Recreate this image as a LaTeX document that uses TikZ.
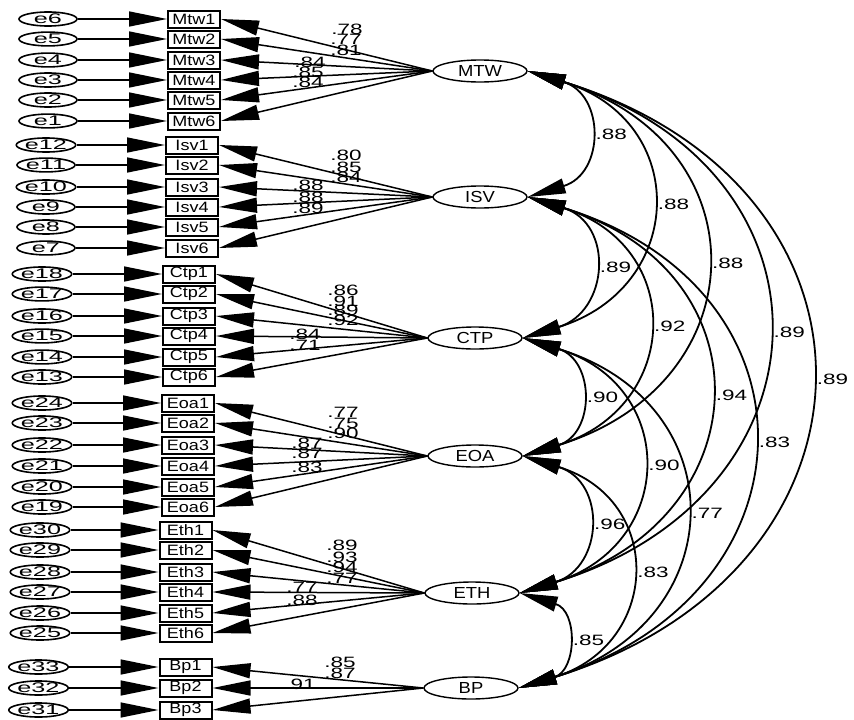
\documentclass[tikz,border=0pt]{standalone}
\usepackage{fontspec}
\setmainfont{Liberation Sans}
\newfontfamily\numfnt[FakeStretch=1.5]{Liberation Sans}
\newfontfamily\errfnt[FakeStretch=1.8]{Liberation Sans}
\newfontfamily\boxfnt[FakeStretch=1.2]{Liberation Sans}
\newfontfamily\latfnt[FakeStretch=1.15]{Liberation Sans}
\usetikzlibrary{arrows.meta,shapes.geometric}
\tikzset{
  errnode/.style={ellipse, draw, line width=1.6pt, minimum width=58pt, minimum height=13pt, inner sep=0pt, font=\errfnt\fontsize{14}{14}\selectfont},
  obsnode/.style={rectangle, draw, line width=2pt, minimum width=52pt, minimum height=17pt, inner sep=0pt, font=\boxfnt\fontsize{15}{15}\selectfont},
  latnode/.style={ellipse, draw, line width=1.4pt, minimum width=94pt, minimum height=22pt, inner sep=0pt, font=\latfnt\fontsize{16}{16}\selectfont},
  numlab/.style={inner sep=0pt, font=\numfnt\fontsize{15}{15}\selectfont},
  bighead/.tip={Triangle[length=38pt,width=15pt]},
  loadarrow/.style={line width=1.5pt, -bighead},
  corrarrow/.style={line width=1.8pt, bighead-bighead},
  corrlab/.style={numlab, anchor=west, xshift=9pt}
}
\begin{document}
\begin{tikzpicture}[x=1pt,y=-1pt]
\useasboundingbox (0,0) rectangle (854,720);
% latent variables
\node[latnode] (MTW) at (480,71) {MTW};
\node[latnode] (ISV) at (480,197) {ISV};
\node[latnode] (CTP) at (475,338) {CTP};
\node[latnode] (EOA) at (475,456) {EOA};
\node[latnode] (ETH) at (472,593) {ETH};
\node[latnode] (BP) at (471,688) {BP};
% indicators
\foreach \i/\y/\e in {1/19/6,2/39/5,3/60/4,4/80/3,5/100/2,6/121/1}{
  \node[obsnode] (Mtw\i) at (194,\y) {Mtw\i};
  \node[errnode] (e\e) at (48,\y) {e\e};
  \draw[loadarrow] (e\e) -- (Mtw\i);
  \draw[loadarrow] (MTW.west) -- (Mtw\i.east);
}
\foreach \i/\y/\e in {1/145/12,2/165/11,3/187/10,4/207/9,5/227/8,6/248/7}{
  \node[obsnode] (Isv\i) at (192,\y) {Isv\i};
  \node[errnode] (e\e) at (46,\y) {e\e};
  \draw[loadarrow] (e\e) -- (Isv\i);
  \draw[loadarrow] (ISV.west) -- (Isv\i.east);
}
\foreach \i/\y/\e in {1/274/18,2/294/17,3/316/16,4/336/15,5/357/14,6/377/13}{
  \node[obsnode] (Ctp\i) at (189,\y) {Ctp\i};
  \node[errnode] (e\e) at (42,\y) {e\e};
  \draw[loadarrow] (e\e) -- (Ctp\i);
  \draw[loadarrow] (CTP.west) -- (Ctp\i.east);
}
\foreach \i/\y/\e in {1/403/24,2/423/23,3/445/22,4/466/21,5/487/20,6/507/19}{
  \node[obsnode] (Eoa\i) at (188,\y) {Eoa\i};
  \node[errnode] (e\e) at (42,\y) {e\e};
  \draw[loadarrow] (e\e) -- (Eoa\i);
  \draw[loadarrow] (EOA.west) -- (Eoa\i.east);
}
\foreach \i/\y/\e in {1/530/30,2/550/29,3/572/28,4/592/27,5/613/26,6/633/25}{
  \node[obsnode] (Eth\i) at (185.5,\y) {Eth\i};
  \node[errnode] (e\e) at (40,\y) {e\e};
  \draw[loadarrow] (e\e) -- (Eth\i);
  \draw[loadarrow] (ETH.west) -- (Eth\i.east);
}
\foreach \i/\y/\e in {1/667/33,2/688/32,3/710/31}{
  \node[obsnode] (Bp\i) at (185.5,\y) {Bp\i};
  \node[errnode] (e\e) at (38.5,\y) {e\e};
  \draw[loadarrow] (e\e) -- (Bp\i);
  \draw[loadarrow] (BP.west) -- (Bp\i.east);
}
% loading labels
\foreach \n/\x/\y/\t in {m1/347/29/.78,m2/346/39/.77,m3/346/50/.81,m4/310/62/.84,m5/308/72/.85,m6/308/82/.84,
  i1/346/155/.80,i2/346/167/.85,i3/346/177/.84,i4/308/185/.88,i5/308/197/.88,i6/308/208/.89,
  c1/343/290/.86,c2/343/301/.91,c3/343/310/.89,c4/343/320/.92,c5/305/334/.84,c6/305/345/.71,
  o1/343/412/.77,o2/343/423/.75,o3/343/433/.90,o4/307/443/.87,o5/307/453/.87,o6/307/467/.83,
  t1/342/545/.89,t2/342/557/.93,t3/342/567/.94,t4/342/578/.77,t5/302/587/.77,t6/302/600/.88,
  b1/340/662/.85,b2/340/673/.87,b3/300/684/.91}{
  \node[numlab] (lab\n) at (\x,\y) {\t};
}
% correlations
\draw[corrarrow] (MTW.east) .. controls +(77.3,23.6) and +(77.3,-23.6) .. (ISV.east) node[pos=0.5,corrlab] (r1) {.88};
\draw[corrarrow] (MTW.east) .. controls +(163.7,50.1) and +(163.7,-50.1) .. (CTP.east) node[pos=0.5,corrlab] (r2) {.88};
\draw[corrarrow] (MTW.east) .. controls +(236.1,72.2) and +(236.1,-72.2) .. (EOA.east) node[pos=0.5,corrlab] (r3) {.88};
\draw[corrarrow] (MTW.east) .. controls +(320.1,97.9) and +(320.1,-97.9) .. (ETH.east) node[pos=0.5,corrlab] (r4) {.89};
\draw[corrarrow] (MTW.east) .. controls +(378.4,115.7) and +(378.4,-115.7) .. (BP.east) node[pos=0.5,corrlab] (r5) {.89};
\draw[corrarrow] (ISV.east) .. controls +(86.5,26.5) and +(86.5,-26.5) .. (CTP.east) node[pos=0.5,corrlab] (r6) {.89};
\draw[corrarrow] (ISV.east) .. controls +(158.8,48.6) and +(158.8,-48.6) .. (EOA.east) node[pos=0.5,corrlab] (r7) {.92};
\draw[corrarrow] (ISV.east) .. controls +(242.9,74.3) and +(242.9,-74.3) .. (ETH.east) node[pos=0.5,corrlab] (r8) {.94};
\draw[corrarrow] (ISV.east) .. controls +(301.1,92.1) and +(301.1,-92.1) .. (BP.east) node[pos=0.5,corrlab] (r9) {.83};
\draw[corrarrow] (CTP.east) .. controls +(72.4,22.1) and +(72.4,-22.1) .. (EOA.east) node[pos=0.5,corrlab] (r10) {.90};
\draw[corrarrow] (CTP.east) .. controls +(156.4,47.8) and +(156.4,-47.8) .. (ETH.east) node[pos=0.5,corrlab] (r11) {.90};
\draw[corrarrow] (CTP.east) .. controls +(214.7,65.7) and +(214.7,-65.7) .. (BP.east) node[pos=0.5,corrlab] (r12) {.77};
\draw[corrarrow] (EOA.east) .. controls +(84,25.7) and +(84,-25.7) .. (ETH.east) node[pos=0.5,corrlab] (r13) {.96};
\draw[corrarrow] (EOA.east) .. controls +(142.3,43.5) and +(142.3,-43.5) .. (BP.east) node[pos=0.5,corrlab] (r14) {.83};
\draw[corrarrow] (ETH.east) .. controls +(58.3,17.8) and +(58.3,-17.8) .. (BP.east) node[pos=0.5,corrlab] (r15) {.85};
\end{tikzpicture}
\end{document}
